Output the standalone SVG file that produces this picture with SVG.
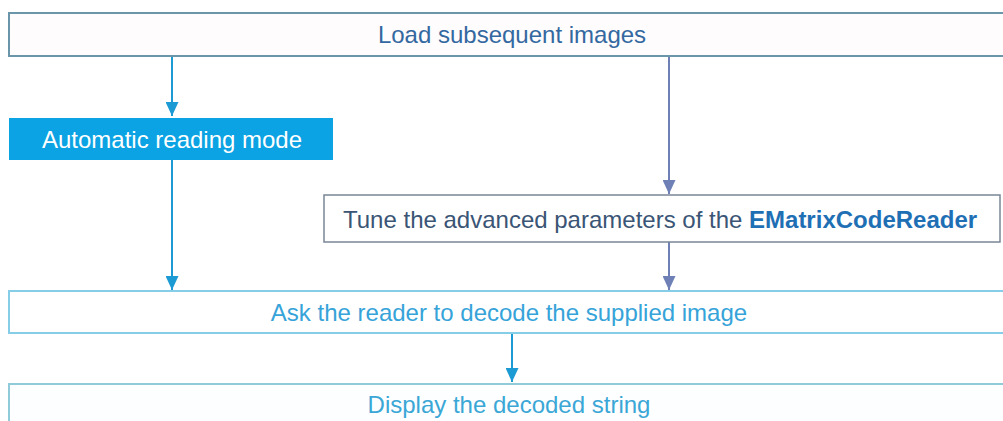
<svg xmlns="http://www.w3.org/2000/svg" width="1003" height="421" viewBox="0 0 1003 421">
  <style>
    .t { font-family: "Liberation Sans", Arial, sans-serif; font-size: 24px; }
    .c { text-anchor: middle; }
  </style>
  <defs>
    <marker id="ab" markerUnits="userSpaceOnUse" markerWidth="14" markerHeight="13" refX="14" refY="6.5" orient="auto">
      <path d="M0,0 L14,6.5 L0,13 z" fill="#1b9ad4"/>
    </marker>
    <marker id="ag" markerUnits="userSpaceOnUse" markerWidth="14" markerHeight="13" refX="14" refY="6.5" orient="auto">
      <path d="M0,0 L14,6.5 L0,13 z" fill="#6e80b6"/>
    </marker>
  </defs>
  <rect width="1003" height="421" fill="#ffffff"/>

  <g id="connectors" fill="none" stroke-width="2">
    <line x1="172" y1="56" x2="172" y2="116" stroke="#1b9ad4" marker-end="url(#ab)"/>
    <line x1="172" y1="160" x2="172" y2="290" stroke="#1b9ad4" marker-end="url(#ab)"/>
    <line x1="669" y1="57" x2="669" y2="194" stroke="#6e80b6" marker-end="url(#ag)"/>
    <line x1="669" y1="242" x2="669" y2="290" stroke="#6e80b6" marker-end="url(#ag)"/>
    <line x1="512" y1="333" x2="512" y2="382" stroke="#1b9ad4" marker-end="url(#ab)"/>
  </g>

  <g id="load">
    <rect x="9" y="13" width="1000" height="43" fill="#fefcfc" stroke="#6b95a8" stroke-width="2"/>
    <text class="t c" x="512" y="43" fill="#3468a0">Load subsequent images</text>
  </g>

  <g id="auto">
    <rect x="9" y="118" width="324" height="42" fill="#0ba3e3"/>
    <text class="t c" x="172" y="148" fill="#ffffff">Automatic reading mode</text>
  </g>

  <g id="tune">
    <rect x="324" y="195" width="676" height="47" fill="#ffffff" stroke="#7a8796" stroke-width="1.5"/>
    <text class="t" x="343" y="228" fill="#3a5575">Tune the advanced parameters of the <tspan font-weight="bold" fill="#1e6fb4">EMatrixCodeReader</tspan></text>
  </g>

  <g id="ask">
    <rect x="9" y="291" width="1000" height="42" fill="#ffffff" stroke="#86cde8" stroke-width="2"/>
    <text class="t c" x="509" y="321" fill="#36a3d9">Ask the reader to decode the supplied image</text>
  </g>

  <g id="display">
    <rect x="9" y="384" width="1000" height="45" fill="#fdfeff" stroke="#8fcbd8" stroke-width="2"/>
    <text class="t c" x="509" y="413" fill="#3aa7d6">Display the decoded string</text>
  </g>
</svg>
